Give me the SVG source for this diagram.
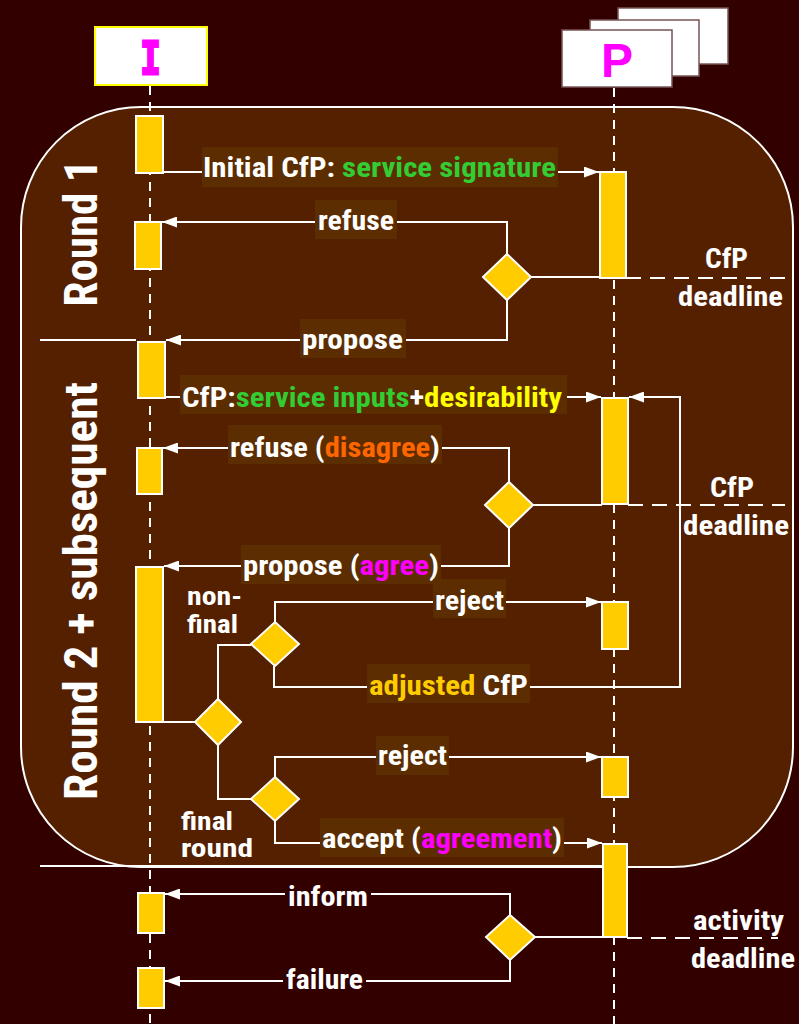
<svg xmlns="http://www.w3.org/2000/svg" width="799" height="1024" viewBox="0 0 799 1024">
<defs>
<marker id="arr" markerUnits="userSpaceOnUse" markerWidth="15" markerHeight="11" refX="15" refY="5.5" orient="auto">
<path d="M0,0 L15,5.5 L0,11 z" fill="#ffffff"/>
</marker>
<style>
.t{font-family:"Liberation Sans Narrow","Roboto Condensed","Liberation Sans",Arial,sans-serif;font-weight:bold;font-size:27px;fill:#ffffff}
.sm{font-size:25px}
.big{font-size:47px}
.act{fill:#ffcc00;stroke:#ffffff;stroke-width:2}
.dia{fill:#ffcc00;stroke:#ffffff;stroke-width:2}
.lbl{fill:#5c2d00}
.lbl2{fill:#330000}
.con{fill:none;stroke:#ffffff;stroke-width:2}
.life{fill:none;stroke:#ffffff;stroke-width:2;stroke-dasharray:9,7}
.dl{fill:none;stroke:#ffffff;stroke-width:2;stroke-dasharray:15,9}
.hdr{fill:#ffffff;stroke:#775555;stroke-width:1.5}
.g{fill:#33cc33}.y{fill:#ffff00}.o{fill:#ff6600}.m{fill:#ff00ff}.au{fill:#ffcc00}
</style>
</defs>
<rect width="799" height="1024" fill="#330000"/>
<g id="round-frame">
<rect x="21" y="107" width="772" height="760" rx="120" ry="120" fill="#552000" stroke="#ffffff" stroke-width="2"/>
<path class="con" d="M40,340 H136 M40,866 H603"/>
<text class="t big" transform="translate(97,233) rotate(-90)" text-anchor="middle" textLength="147" lengthAdjust="spacingAndGlyphs">Round 1</text>
<text class="t big" transform="translate(97,591) rotate(-90)" text-anchor="middle" textLength="418" lengthAdjust="spacingAndGlyphs">Round 2 + subsequent</text>
</g>
<g id="header-I">
<rect x="95" y="27" width="112" height="58" fill="#ffffff" stroke="#ffff00" stroke-width="2"/>
<text x="150.5" y="74" text-anchor="middle" font-family="Liberation Mono,Courier New,monospace" font-weight="bold" font-size="50" fill="#ff00ff" stroke="#ff00ff" stroke-width="3" textLength="20" lengthAdjust="spacingAndGlyphs">I</text>
</g>
<g id="header-P">
<rect class="hdr" x="618" y="8" width="110" height="56"/>
<rect class="hdr" x="590" y="20" width="109" height="56"/>
<rect class="hdr" x="562" y="30" width="110" height="57"/>
<text x="617" y="77" text-anchor="middle" font-family="Liberation Sans,Arial,sans-serif" font-weight="bold" font-size="48" fill="#ff00ff">P</text>
</g>
<g id="lifelines">
<path class="life" d="M150,86 V1024"/>
<path class="life" d="M614,88 V1024"/>
</g>
<g id="connectors">
<path class="con" d="M163,172 H599" marker-end="url(#arr)"/>
<path class="con" d="M507,254 V222 H162" marker-end="url(#arr)"/>
<path class="con" d="M507,300 V340 H166" marker-end="url(#arr)"/>
<path class="con" d="M165,397 H601" marker-end="url(#arr)"/>
<path class="con" d="M274,666 V687 H680 V397 H629" marker-end="url(#arr)"/>
<path class="con" d="M509,482 V448 H163" marker-end="url(#arr)"/>
<path class="con" d="M509,528 V566 H164" marker-end="url(#arr)"/>
<path class="con" d="M163,722 H195"/>
<path class="con" d="M218,699 V645 H251"/>
<path class="con" d="M275,622 V602 H601" marker-end="url(#arr)"/>
<path class="con" d="M218,745 V799 H251"/>
<path class="con" d="M275,777 V757 H601" marker-end="url(#arr)"/>
<path class="con" d="M275,821 V843 H602" marker-end="url(#arr)"/>
<path class="con" d="M531,277 H600"/>
<path class="con" d="M533,505 H602"/>
<path class="con" d="M535,937 H603"/>
<path class="con" d="M510,915 V894 H165" marker-end="url(#arr)"/>
<path class="con" d="M510,960 V981 H165" marker-end="url(#arr)"/>
<path class="dl" d="M626,278 H785"/>
<path class="dl" d="M628,505 H785"/>
<path class="dl" d="M627,938 H778"/>
</g>
<g id="act-I">
<rect class="act" x="136" y="116" width="27" height="57"/>
<rect class="act" x="135" y="222" width="26" height="47"/>
<rect class="act" x="138" y="342" width="27" height="56"/>
<rect class="act" x="137" y="448" width="25" height="46"/>
<rect class="act" x="136" y="567" width="27" height="155"/>
<rect class="act" x="138" y="893" width="26" height="40"/>
<rect class="act" x="138" y="968" width="26" height="40"/>
</g>
<g id="act-P">
<rect class="act" x="600" y="172" width="26" height="106"/>
<rect class="act" x="602" y="398" width="26" height="106"/>
<rect class="act" x="602" y="602" width="26" height="47"/>
<rect class="act" x="602" y="757" width="26" height="40"/>
<rect class="act" x="603" y="844" width="24" height="93"/>
</g>
<g id="decisions">
<path class="dia" d="M507,254 L531,277 L507,300 L483,277 z"/>
<path class="dia" d="M509,482 L533,505 L509,528 L485,505 z"/>
<path class="dia" d="M218,699 L241,722 L218,745 L195,722 z"/>
<path class="dia" d="M275,622 L299,644 L275,666 L251,644 z"/>
<path class="dia" d="M275,777 L299,799 L275,821 L251,799 z"/>
<path class="dia" d="M510,915 L535,937 L510,960 L486,937 z"/>
</g>
<g id="msg-initial-cfp">
<rect class="lbl" x="202" y="147" width="356" height="40"/>
<text class="t" x="203" y="177" textLength="353" lengthAdjust="spacingAndGlyphs">Initial CfP: <tspan class="g">service signature</tspan></text>
</g>
<g id="msg-refuse">
<rect class="lbl" x="315" y="200" width="82" height="39"/>
<text class="t" x="318" y="230" textLength="76" lengthAdjust="spacingAndGlyphs">refuse</text>
</g>
<g id="msg-propose">
<rect class="lbl" x="300" y="319" width="106" height="39"/>
<text class="t" x="302" y="349" textLength="101" lengthAdjust="spacingAndGlyphs">propose</text>
</g>
<g id="msg-cfp-inputs">
<rect class="lbl" x="180" y="375" width="387" height="39"/>
<text class="t" x="182" y="407" textLength="380" lengthAdjust="spacingAndGlyphs">CfP:<tspan class="g">service inputs</tspan>+<tspan class="y">desirability</tspan></text>
</g>
<g id="msg-refuse-disagree">
<rect class="lbl" x="228" y="425" width="214" height="39"/>
<text class="t" x="230" y="457" textLength="210" lengthAdjust="spacingAndGlyphs">refuse (<tspan class="o">disagree</tspan>)</text>
</g>
<g id="msg-propose-agree">
<rect class="lbl" x="241" y="545" width="200" height="39"/>
<text class="t" x="243" y="575" textLength="196" lengthAdjust="spacingAndGlyphs">propose (<tspan class="m">agree</tspan>)</text>
</g>
<g id="msg-reject-1">
<rect class="lbl" x="433" y="579" width="73" height="39"/>
<text class="t" x="435" y="610" textLength="69" lengthAdjust="spacingAndGlyphs">reject</text>
</g>
<g id="msg-adjusted-cfp">
<rect class="lbl" x="367" y="664" width="163" height="39"/>
<text class="t" x="369" y="695" textLength="159" lengthAdjust="spacingAndGlyphs"><tspan class="au">adjusted</tspan> CfP</text>
</g>
<g id="msg-reject-2">
<rect class="lbl" x="376" y="736" width="73" height="39"/>
<text class="t" x="378" y="765" textLength="69" lengthAdjust="spacingAndGlyphs">reject</text>
</g>
<g id="msg-accept">
<rect class="lbl" x="320" y="818" width="244" height="39"/>
<text class="t" x="322" y="848" textLength="240" lengthAdjust="spacingAndGlyphs">accept (<tspan class="m">agreement</tspan>)</text>
</g>
<g id="msg-inform">
<rect class="lbl2" x="285" y="878" width="86" height="36"/>
<text class="t" x="288" y="906" textLength="80" lengthAdjust="spacingAndGlyphs">inform</text>
</g>
<g id="msg-failure">
<rect class="lbl2" x="283" y="962" width="83" height="36"/>
<text class="t" x="286" y="989" textLength="77" lengthAdjust="spacingAndGlyphs">failure</text>
</g>
<g id="branch-labels">
<text class="t sm" x="187" y="605" textLength="55" lengthAdjust="spacingAndGlyphs">non-</text>
<text class="t sm" x="187" y="633" textLength="51" lengthAdjust="spacingAndGlyphs">final</text>
<text class="t sm" x="181" y="830" textLength="52" lengthAdjust="spacingAndGlyphs">final</text>
<text class="t sm" x="181" y="857" textLength="72" lengthAdjust="spacingAndGlyphs">round</text>
</g>
<g id="deadline-labels">
<text class="t" x="705" y="268" textLength="43" lengthAdjust="spacingAndGlyphs">CfP</text>
<text class="t" x="678" y="306" textLength="105" lengthAdjust="spacingAndGlyphs">deadline</text>
<text class="t" x="710" y="497" textLength="44" lengthAdjust="spacingAndGlyphs">CfP</text>
<text class="t" x="683" y="535" textLength="106" lengthAdjust="spacingAndGlyphs">deadline</text>
<text class="t" x="693" y="930" textLength="91" lengthAdjust="spacingAndGlyphs">activity</text>
<text class="t" x="691" y="968" textLength="104" lengthAdjust="spacingAndGlyphs">deadline</text>
</g>
</svg>
